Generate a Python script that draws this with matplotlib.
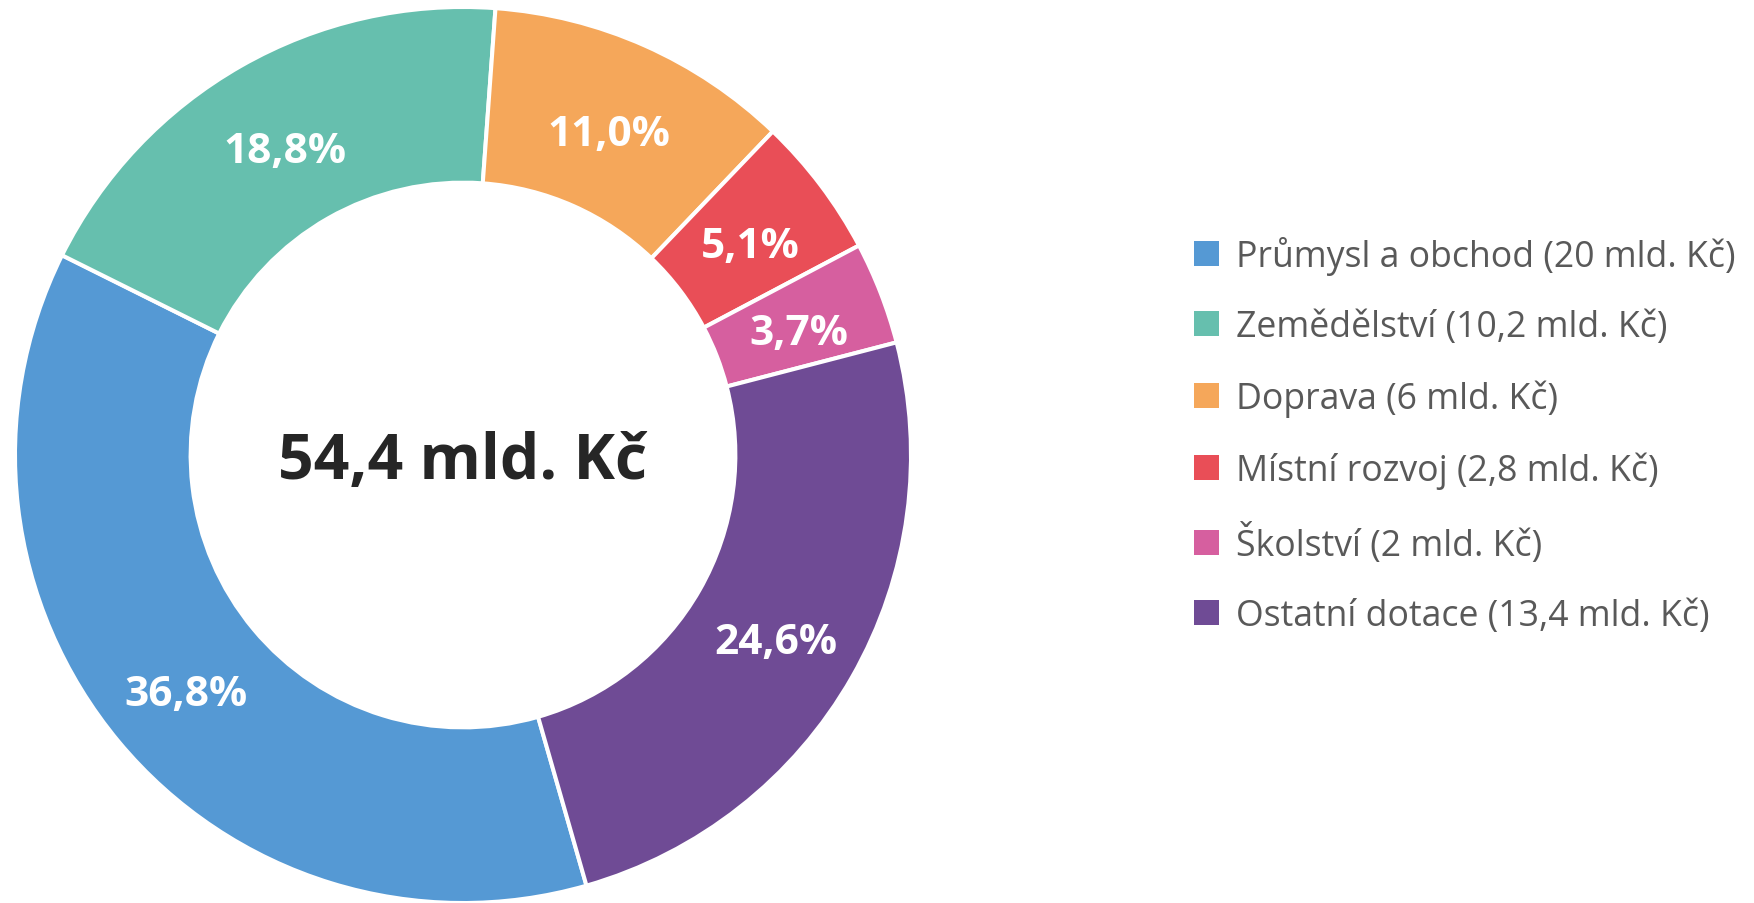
import matplotlib
matplotlib.use('Agg')
import matplotlib.pyplot as plt
from matplotlib.patches import Patch
from matplotlib.transforms import offset_copy
import numpy as np

plt.rcParams['font.family'] = ['Open Sans', 'DejaVu Sans']

# data
categories = ['Průmysl a obchod', 'Zemědělství', 'Doprava', 'Místní rozvoj', 'Školství', 'Ostatní dotace']
amounts = ['20', '10,2', '6', '2,8', '2', '13,4']  # mld. Kč
shares = [36.8, 18.8, 11.0, 5.1, 3.7, 24.6]  # %
total_label = '54,4 mld. Kč'
colors = ['#5599D4', '#66BFAE', '#F5A75A', '#E94E57', '#D65F9F', '#6F4B95']

fig = plt.figure(figsize=(17.54, 9.04), dpi=100)
ax = fig.add_axes([15 / 1754, 0, 896 / 1754, 896 / 904])

inner = 0.608
wedges, _ = ax.pie(shares, colors=colors, startangle=-74, counterclock=False,
                   radius=1, wedgeprops=dict(width=1 - inner, edgecolor='white', linewidth=2.9))
ax.set_xlim(-1, 1)
ax.set_ylim(-1, 1)
ax.set_aspect('equal')
for w in wedges:
    w.set_clip_on(False)

# text sits a few pixels lower in the original
shifted = offset_copy(ax.transData, fig=fig, y=-9, units='dots')

# percentage labels in the middle of the ring
r_lab = (1 + inner) / 2
for w, s in zip(wedges, shares):
    ang = np.deg2rad((w.theta1 + w.theta2) / 2)
    ax.text(r_lab * np.cos(ang), r_lab * np.sin(ang), f'{s:.1f}%'.replace('.', ','),
            ha='center', va='center', color='white', fontsize=30.5, fontweight='bold',
            transform=shifted)

ax.text(0, 0, total_label, ha='center', va='center', color='#262626',
        fontsize=45, fontweight='bold',
        transform=offset_copy(ax.transData, fig=fig, y=-7, units='dots'))

handles = [Patch(facecolor=c, edgecolor='none') for c in colors]
labels = [f'{c} ({a} mld. Kč)' for c, a in zip(categories, amounts)]
leg = fig.legend(handles, labels, loc='center left', bbox_to_anchor=(1194 / 1754, 1 - 436 / 904),
                 frameon=False, fontsize=25.7, handlelength=0.7, handleheight=0.7,
                 handletextpad=0.47, labelspacing=0.96, borderpad=0, borderaxespad=0)
for t in leg.get_texts():
    t.set_color('#595959')

fig.savefig('out.png', dpi=100)
